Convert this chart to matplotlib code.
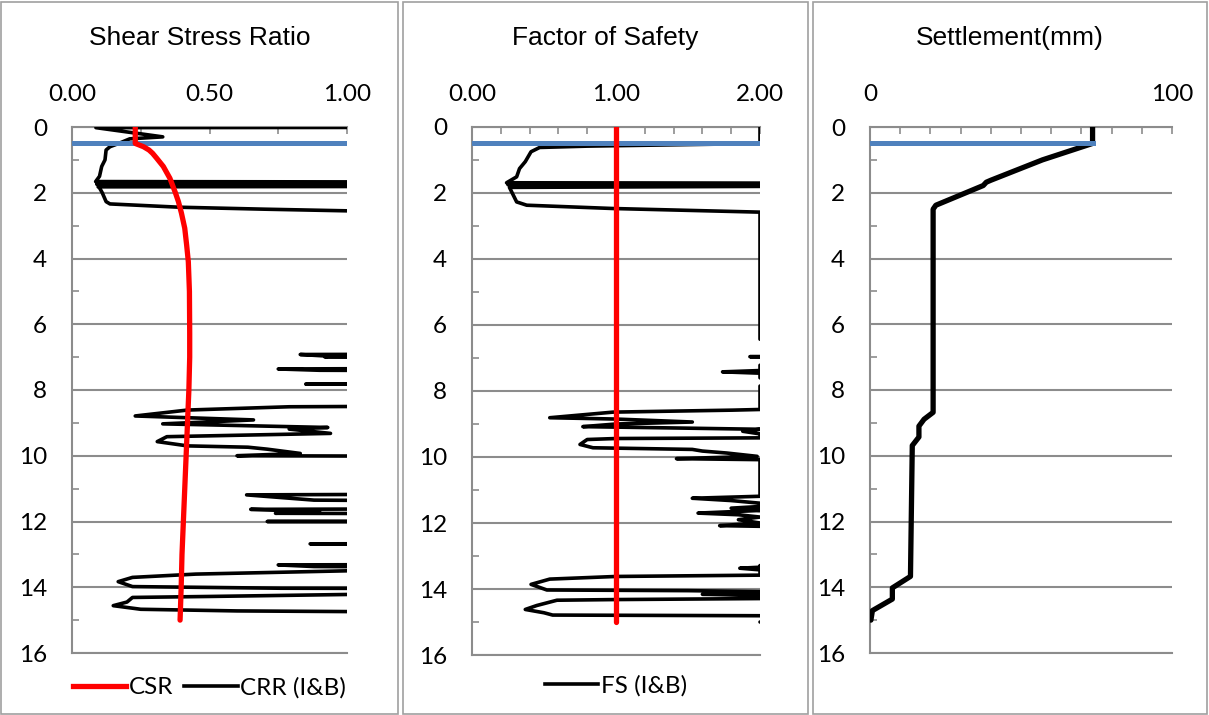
import matplotlib.pyplot as plt
import numpy as np
from matplotlib.patches import Rectangle
from matplotlib.lines import Line2D

# depth profiles (values past the axis are clipped)
csr_depth = [0, 0.5, 0.55, 0.6, 0.7, 0.8, 0.95, 1.2, 1.56, 2.0, 2.27, 2.62, 3.08, 3.6, 4.1, 5.0, 6.27, 7.0, 8.0,
             9.0, 10.0, 11.0, 12.0, 13.0, 14.0, 15.0]
csr = [0.23, 0.23, 0.245, 0.26, 0.28, 0.293, 0.308, 0.332, 0.356, 0.376, 0.387, 0.398, 0.41, 0.417, 0.423,
       0.427, 0.428, 0.428, 0.425, 0.42, 0.415, 0.41, 0.405, 0.40, 0.397, 0.393]

crr_depth = [0.0, 0.02, 0.30, 0.36, 0.5, 0.6, 0.7, 1.0, 1.2, 1.5, 1.66, 1.69, 1.72, 1.74, 1.76, 1.79, 1.82, 1.85,
             2.0, 2.27, 2.34, 2.44, 2.5, 2.55, 2.6, 6.88, 6.92, 6.97, 7.0, 7.03, 7.3, 7.36, 7.4, 7.45, 7.78, 7.82,
             7.86, 8.43, 8.51, 8.61, 8.79, 8.91, 9.03, 9.14, 9.19, 9.32, 9.42, 9.57, 9.7, 9.74, 9.8, 9.93, 10.0,
             10.05, 11.12, 11.19, 11.35, 11.45, 11.58, 11.63, 11.7, 11.75, 11.8, 11.95, 12.0, 12.05, 12.64, 12.68,
             12.72, 13.28, 13.32, 13.37, 13.43, 13.5, 13.6, 13.7, 13.83, 13.98, 14.03, 14.06, 14.1, 14.16, 14.22,
             14.28, 14.31, 14.45, 14.56, 14.67, 14.72, 14.74, 14.76, 15.0]
crr = [3, 0.087, 0.33, 0.21, 0.17, 0.138, 0.124, 0.12, 0.108, 0.10, 0.086, 3, 3, 0.09, 3, 3, 0.095, 0.10,
       0.11, 0.124, 0.138, 0.39, 0.7, 1.0, 3, 3, 0.83, 0.93, 0.92, 3, 3, 0.75, 0.9, 3, 3, 0.85,
       3, 3, 0.79, 0.42, 0.23, 0.66, 0.33, 0.93, 0.79, 0.94, 0.345, 0.31, 0.42, 0.64, 0.71, 0.83, 0.6,
       3, 3, 0.635, 0.88, 3, 3, 0.65, 0.9, 0.74, 3, 3, 0.71, 3, 3, 0.866,
       3, 3, 0.75, 0.88, 3, 1.0, 0.45, 0.22, 0.168, 0.22, 0.76, 3, 3, 1.5, 1.0,
       0.5, 0.22, 0.2, 0.15, 0.25, 0.6, 1.0, 3, 3]

fs_depth = [0, 0.5, 0.58, 0.62, 0.75, 1.05, 1.26, 1.51, 1.69, 1.70, 1.73, 1.75, 1.77, 1.80, 1.83, 1.97, 2.27, 2.37,
            2.47, 2.58, 6.43, 6.45, 6.93, 6.96, 6.99, 7.21, 7.22, 7.38, 7.42, 7.46, 7.6, 7.62, 7.83, 7.85, 8.56,
            8.58, 8.64, 8.81, 8.85, 8.94, 9.0, 9.08, 9.12, 9.16, 9.22, 9.3, 9.42, 9.44, 9.47, 9.62, 9.72, 9.77,
            9.82, 9.88, 9.98, 10.05, 10.08, 11.19, 11.25, 11.32, 11.4, 11.5, 11.55, 11.62, 11.7, 11.75, 11.82,
            11.9, 12.0, 12.08, 12.1, 12.12, 13.27, 13.29, 13.34, 13.37, 13.42, 13.58, 13.62, 13.7, 13.86, 14.03,
            14.05, 14.08, 14.14, 14.16, 14.2, 14.29, 14.32, 14.34, 14.5, 14.62, 14.72, 14.79, 14.81, 14.84,
            14.98, 15.0]
fs = [2, 2, 0.8, 0.47, 0.41, 0.37, 0.33, 0.31, 0.24, 2, 2, 0.25, 2, 2, 0.26, 0.276, 0.31, 0.38,
      0.98, 2, 2, 3, 3, 1.93, 3, 3, 2, 2, 1.74, 2, 2, 3, 3, 2, 2,
      1.81, 0.98, 0.54, 1.0, 1.53, 1.0, 0.77, 1.4, 2, 1.88, 2, 2, 1.0, 0.8, 0.75, 0.84, 1.53,
      1.6, 1.77, 1.98, 1.42, 2, 2, 1.53, 1.8, 2, 2, 1.8, 2, 1.57, 1.85, 2,
      1.85, 2, 1.72, 2, 3, 3, 2, 2, 1.86, 2, 2, 1.0, 0.54, 0.41, 0.52,
      1.5, 2, 2, 1.6, 2, 2, 1.0, 0.59, 0.45, 0.37, 0.5, 0.56, 2, 3,
      3, 2]

fs_limit = 1.0
water_depth = 0.5

settle_depth = [0, 0.5, 1.0, 1.62, 1.68, 1.78, 1.96, 2.38, 2.5, 8.68, 8.89, 9.1, 9.43, 9.69, 13.67, 14.02, 14.36,
                14.71, 15.0]
settle = [73.7, 73.7, 57.1, 40.0, 38.5, 37.5, 32.8, 21.8, 20.9, 20.9, 17.9, 16.2, 16.2, 14.0, 13.4, 7.4, 7.4,
          0.8, 0.3]

titles = ['Shear Stress Ratio', 'Factor of Safety', 'Settlement(mm)']

W, H = 1209, 715
GRID = '#8c8c8c'
RED = '#ff0000'
BLUE = '#4f81bd'
TICKFONT = 'Lato'
FS_TICK = 17.5

fig = plt.figure(figsize=(W / 100, H / 100), dpi=100)

frames = [(1, 398), (403, 808), (813, 1207)]
for x0, x1 in frames:
    fig.patches.append(Rectangle((x0 / W, 1 / H), (x1 - x0) / W, 712 / H, transform=fig.transFigure,
                                 fill=False, edgecolor='#a0a0a0', lw=1.2))


def make_axes(px0, px1, py0, py1):
    return fig.add_axes([px0 / W, 1 - py1 / H, (px1 - px0) / W, (py1 - py0) / H])


def setup(ax, xmax, major, minor, fmt):
    ax.set_xlim(0, xmax)
    ax.set_ylim(16, 0)
    ax.xaxis.tick_top()
    ax.set_xticks(np.arange(0, xmax + 1e-9, major))
    ax.set_xticklabels([fmt.format(v) for v in np.arange(0, xmax + 1e-9, major)])
    ax.set_xticks(np.arange(0, xmax + 1e-9, minor), minor=True)
    ax.set_yticks(range(0, 17, 2))
    ax.set_yticks(range(1, 16, 2), minor=True)
    ax.grid(axis='y', which='major', color=GRID, lw=1.5)
    for s in ['right', 'bottom']:
        ax.spines[s].set_visible(False)
    for s in ['left', 'top']:
        ax.spines[s].set_color(GRID)
        ax.spines[s].set_linewidth(1.5)
    ax.tick_params(axis='x', which='both', direction='in', length=5, color=GRID, width=1.2,
                   labelsize=FS_TICK, pad=16)
    ax.tick_params(axis='y', which='major', length=0, labelsize=FS_TICK, pad=18)
    ax.tick_params(axis='y', which='minor', direction='in', length=5, color=GRID, width=1.2)
    for lab in ax.get_xticklabels() + ax.get_yticklabels():
        lab.set_fontfamily(TICKFONT)
    ax.axhline(16, color=GRID, lw=1.5, clip_on=False)
    ax.set_axisbelow(True)


ax1 = make_axes(72, 347, 127, 653)
ax2 = make_axes(472, 760, 127, 655)
ax3 = make_axes(870, 1172, 127, 653)

setup(ax1, 1.0, 0.5, 0.25, '{:.2f}')
setup(ax2, 2.0, 1.0, 0.2, '{:.2f}')
setup(ax3, 100, 100, 10, '{:.0f}')

line_kw = dict(solid_joinstyle='round', solid_capstyle='round')

# panel 1
ax1.plot(crr, crr_depth, color='black', lw=2.6, zorder=3, **line_kw)
ax1.axhline(water_depth, color=BLUE, lw=3.6, zorder=4)
ax1.plot(csr, csr_depth, color=RED, lw=3.8, zorder=5, **line_kw)

# panel 2
ax2.plot(fs, fs_depth, color='black', lw=2.6, zorder=3, **line_kw)
ax2.axhline(water_depth, color=BLUE, lw=3.6, zorder=4)
ax2.plot([fs_limit, fs_limit], [csr_depth[0], csr_depth[-1]], color=RED, lw=3.8, zorder=5, **line_kw)

# panel 3
ax3.plot(settle, settle_depth, color='black', lw=3.8, zorder=3, **line_kw)
ax3.plot([0, settle[0]], [water_depth, water_depth], color=BLUE, lw=3.6, zorder=4)

centers = [(x0 + x1) / 2 / W for x0, x1 in frames]
for c, t in zip(centers, titles):
    fig.text(c, 1 - 38 / H, t, ha='center', va='center', fontsize=19, family='Liberation Sans')

ax1.legend([Line2D([], [], color=RED, lw=3.8), Line2D([], [], color='black', lw=2.6)],
           ['CSR', 'CRR (I&B)'], loc='center', bbox_to_anchor=(0.5, -0.066), ncol=2,
           frameon=False, handlelength=2.2, handletextpad=0.1, columnspacing=0.45,
           prop={'family': TICKFONT, 'size': FS_TICK})
ax2.legend([Line2D([], [], color='black', lw=2.6)], ['FS (I&B)'], loc='center',
           bbox_to_anchor=(0.5, -0.058), frameon=False, handlelength=2.2, handletextpad=0.1,
           prop={'family': TICKFONT, 'size': FS_TICK})

plt.savefig('out.png', dpi=100)
